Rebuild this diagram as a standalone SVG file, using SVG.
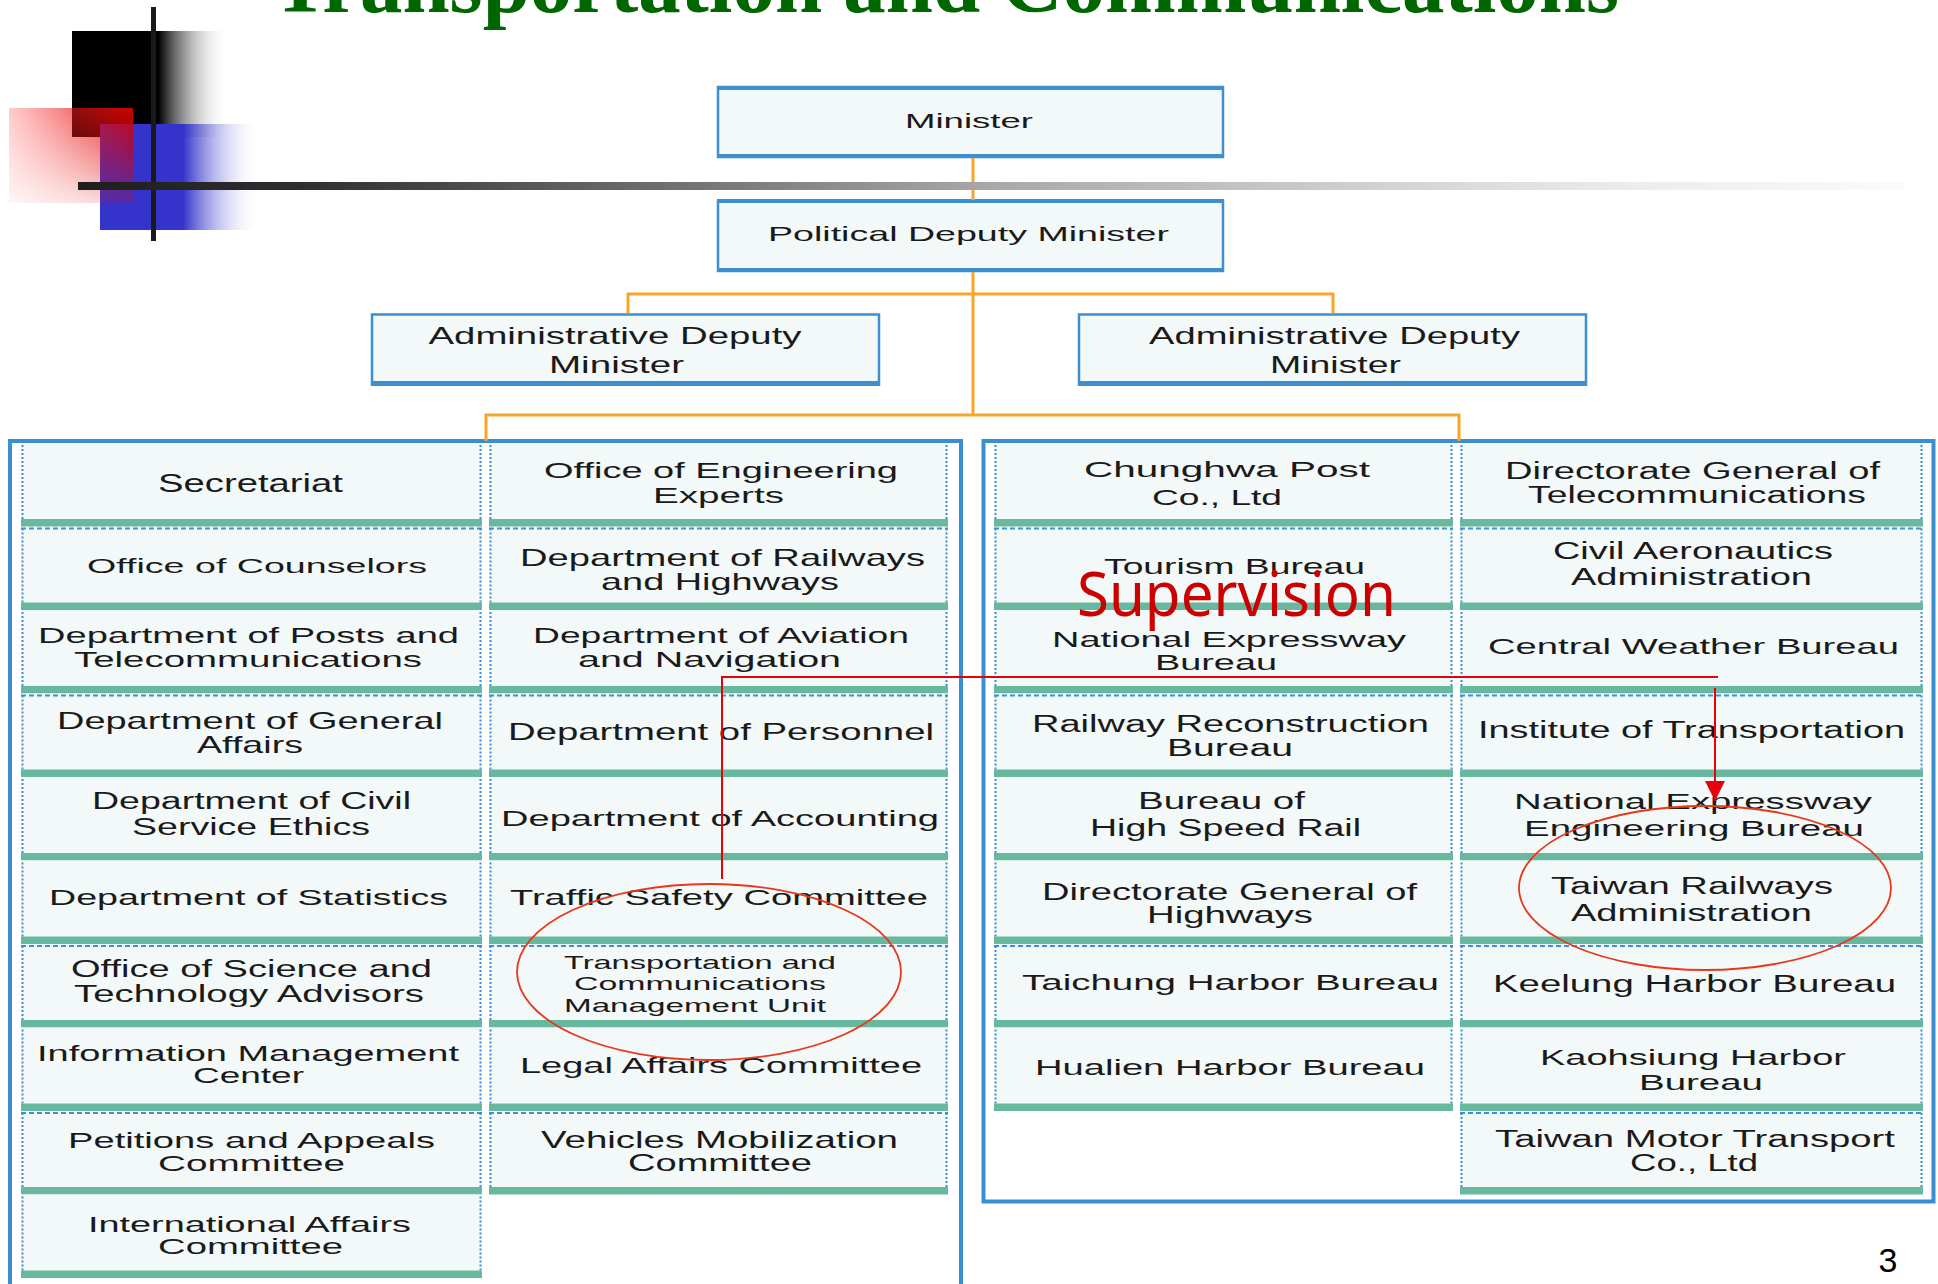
<svg xmlns="http://www.w3.org/2000/svg" width="1938" height="1284" viewBox="0 0 1938 1284">
<defs>
<style>
.cf{fill:#f3f8f8}
.bar{fill:#68b8a0}
.dv{stroke:#3d8fd6;stroke-width:2;stroke-dasharray:2 2;fill:none}
.dh{stroke:#3d8fd6;stroke-width:2;stroke-dasharray:5 3;fill:none}
.t{font-family:"Liberation Sans",Arial,sans-serif;fill:#1a1a1a;text-anchor:middle}
.box{fill:#f3f8f8;stroke:#3d8fd0;stroke-width:2.5}
.bx{fill:#3d8fd0}
.pan{fill:none;stroke:#3a8fd1;stroke-width:4}
.org{fill:none;stroke:#f7a52a;stroke-width:3}
.red{fill:none;stroke:#e8000b;stroke-width:2}
.ell{fill:none;stroke:#e8381c;stroke-width:1.8}
</style>
<linearGradient id="gBlack" x1="0" y1="0" x2="1" y2="0">
<stop offset="0" stop-color="#000"/><stop offset="0.55" stop-color="#000"/><stop offset="1" stop-color="#fff" stop-opacity="0"/>
</linearGradient>
<linearGradient id="gBlue" x1="0" y1="0" x2="1" y2="0">
<stop offset="0" stop-color="#3434cc"/><stop offset="0.52" stop-color="#3434cc"/><stop offset="1" stop-color="#fff" stop-opacity="0"/>
</linearGradient>
<linearGradient id="gRed" x1="0" y1="0" x2="1" y2="0">
<stop offset="0" stop-color="#ff3030" stop-opacity="0.25"/><stop offset="1" stop-color="#d80000" stop-opacity="0.95"/>
</linearGradient>
<linearGradient id="gRedMask" x1="0" y1="0" x2="0" y2="1">
<stop offset="0" stop-color="#fff"/><stop offset="1" stop-color="#fff" stop-opacity="0.2"/>
</linearGradient>
<mask id="mRed" maskUnits="userSpaceOnUse" x="0" y="100" width="150" height="110">
<rect x="9" y="108" width="124" height="95" fill="url(#gRedMask)"/>
</mask>
<linearGradient id="gBar" x1="0" y1="0" x2="1" y2="0">
<stop offset="0" stop-color="#1e1e1e"/><stop offset="0.12" stop-color="#2e2e2e"/><stop offset="0.5" stop-color="#a8a8a8"/><stop offset="0.85" stop-color="#ececec"/><stop offset="1" stop-color="#fbfbfb"/>
</linearGradient>
<marker id="arr" markerUnits="userSpaceOnUse" markerWidth="20" markerHeight="20" refX="20" refY="10" orient="auto">
<path d="M0 0L20 10L0 20z" fill="#e8000b"/>
</marker>
</defs>

<rect width="1938" height="1284" fill="#fff"/>

<!-- title -->
<text x="272" y="12" font-family="Liberation Serif,'Times New Roman',serif" font-weight="bold" font-size="84" fill="#006600" textLength="1347" lengthAdjust="spacingAndGlyphs">Transportation and Communications</text>

<!-- decoration -->
<rect x="72" y="31" width="157" height="106" fill="url(#gBlack)"/>
<rect x="100" y="124" width="160" height="106" fill="url(#gBlue)"/>
<rect x="9" y="108" width="124" height="95" fill="url(#gRed)" mask="url(#mRed)"/>

<!-- panels -->
<path class="pan" d="M10 1284V441H961V1284"/>
<rect class="pan" x="983.5" y="441" width="950" height="760.5"/>

<!-- top nodes -->
<g id="minister">
<rect class="box" x="718" y="87" width="505" height="70"/>
<rect class="bx" x="717" y="86" width="507" height="4"/>
<rect class="bx" x="717" y="154" width="507" height="4"/>
<text class="t" x="969" y="128" font-size="21" textLength="128" lengthAdjust="spacingAndGlyphs">Minister</text>
</g>
<g id="political-deputy">
<rect class="box" x="718" y="201" width="505" height="70"/>
<rect class="bx" x="717" y="199" width="507" height="4"/>
<rect class="bx" x="717" y="268" width="507" height="4"/>
<text class="t" x="968.5" y="241" font-size="21" textLength="401" lengthAdjust="spacingAndGlyphs">Political Deputy Minister</text>
</g>
<g id="admin-deputy-1">
<rect class="box" x="372" y="314.5" width="507" height="70"/>
<rect class="bx" x="371" y="381" width="509" height="5"/>
<text class="t" x="615" y="344" font-size="24" textLength="373" lengthAdjust="spacingAndGlyphs">Administrative Deputy</text>
<text class="t" x="616.5" y="373" font-size="24" textLength="135" lengthAdjust="spacingAndGlyphs">Minister</text>
</g>
<g id="admin-deputy-2">
<rect class="box" x="1079" y="314.5" width="507" height="70"/>
<rect class="bx" x="1078" y="381" width="509" height="5"/>
<text class="t" x="1334.5" y="344" font-size="24" textLength="371" lengthAdjust="spacingAndGlyphs">Administrative Deputy</text>
<text class="t" x="1335.5" y="373" font-size="24" textLength="131" lengthAdjust="spacingAndGlyphs">Minister</text>
</g>

<!-- column 1 -->
<g id="secretariat">
<rect class="cf" x="21" y="443" width="461" height="76"/><path class="dv" d="M22.5 445V519M480.5 445V519"/><rect class="bar" x="21" y="519" width="461" height="8"/>
<text class="t" x="250.5" y="492" font-size="25" textLength="185" lengthAdjust="spacingAndGlyphs">Secretariat</text>
</g>
<g id="counselors">
<rect class="cf" x="21" y="526.5" width="461" height="76"/><path class="dh" d="M21 528.5H482"/><path class="dv" d="M22.5 528.5V602.5M480.5 528.5V602.5"/><rect class="bar" x="21" y="602.5" width="461" height="7.5"/>
<text class="t" x="257" y="573" font-size="21" textLength="340" lengthAdjust="spacingAndGlyphs">Office of Counselors</text>
</g>
<g id="posts-telecom">
<rect class="cf" x="21" y="610" width="461" height="76"/><path class="dv" d="M22.5 612V686M480.5 612V686"/><rect class="bar" x="21" y="686" width="461" height="7.5"/>
<text class="t" x="248.5" y="643" font-size="22" textLength="421" lengthAdjust="spacingAndGlyphs">Department of Posts and</text>
<text class="t" x="248" y="667" font-size="22" textLength="348" lengthAdjust="spacingAndGlyphs">Telecommunications</text>
</g>
<g id="general-affairs">
<rect class="cf" x="21" y="693.5" width="461" height="76"/><path class="dh" d="M21 695.5H482"/><path class="dv" d="M22.5 695.5V769.5M480.5 695.5V769.5"/><rect class="bar" x="21" y="769.5" width="461" height="7.5"/>
<text class="t" x="250" y="729" font-size="24" textLength="386" lengthAdjust="spacingAndGlyphs">Department of General</text>
<text class="t" x="250" y="753" font-size="24" textLength="106" lengthAdjust="spacingAndGlyphs">Affairs</text>
</g>
<g id="civil-service-ethics">
<rect class="cf" x="21" y="777" width="461" height="76"/><path class="dv" d="M22.5 779V853M480.5 779V853"/><rect class="bar" x="21" y="853" width="461" height="7.5"/>
<text class="t" x="251.5" y="809" font-size="23" textLength="319" lengthAdjust="spacingAndGlyphs">Department of Civil</text>
<text class="t" x="251" y="835" font-size="23" textLength="238" lengthAdjust="spacingAndGlyphs">Service Ethics</text>
</g>
<g id="statistics">
<rect class="cf" x="21" y="860.5" width="461" height="76"/><path class="dv" d="M22.5 862.5V936.5M480.5 862.5V936.5"/><rect class="bar" x="21" y="936.5" width="461" height="7.5"/>
<text class="t" x="248.5" y="905" font-size="22" textLength="399" lengthAdjust="spacingAndGlyphs">Department of Statistics</text>
</g>
<g id="science-technology">
<rect class="cf" x="21" y="944" width="461" height="76"/><path class="dh" d="M21 946H482"/><path class="dv" d="M22.5 946V1020M480.5 946V1020"/><rect class="bar" x="21" y="1020" width="461" height="7.5"/>
<text class="t" x="251.5" y="977" font-size="23" textLength="361" lengthAdjust="spacingAndGlyphs">Office of Science and</text>
<text class="t" x="249" y="1002" font-size="23" textLength="350" lengthAdjust="spacingAndGlyphs">Technology Advisors</text>
</g>
<g id="information-management">
<rect class="cf" x="21" y="1027.5" width="461" height="76"/><path class="dv" d="M22.5 1029.5V1103.5M480.5 1029.5V1103.5"/><rect class="bar" x="21" y="1103.5" width="461" height="7.5"/>
<text class="t" x="248" y="1061" font-size="22" textLength="422" lengthAdjust="spacingAndGlyphs">Information Management</text>
<text class="t" x="248.5" y="1083" font-size="22" textLength="111" lengthAdjust="spacingAndGlyphs">Center</text>
</g>
<g id="petitions-appeals">
<rect class="cf" x="21" y="1111" width="461" height="76"/><path class="dh" d="M21 1113H482"/><path class="dv" d="M22.5 1113V1187M480.5 1113V1187"/><rect class="bar" x="21" y="1187" width="461" height="7.5"/>
<text class="t" x="251.5" y="1148" font-size="22" textLength="367" lengthAdjust="spacingAndGlyphs">Petitions and Appeals</text>
<text class="t" x="251.5" y="1171" font-size="22" textLength="187" lengthAdjust="spacingAndGlyphs">Committee</text>
</g>
<g id="international-affairs">
<rect class="cf" x="21" y="1194.5" width="461" height="76"/><path class="dv" d="M22.5 1196.5V1270.5M480.5 1196.5V1270.5"/><rect class="bar" x="21" y="1270.5" width="461" height="7.5"/>
<text class="t" x="249.5" y="1232" font-size="22" textLength="323" lengthAdjust="spacingAndGlyphs">International Affairs</text>
<text class="t" x="250.5" y="1254" font-size="22" textLength="185" lengthAdjust="spacingAndGlyphs">Committee</text>
</g>

<!-- column 2 -->
<g id="engineering-experts">
<rect class="cf" x="489" y="443" width="459" height="76"/><path class="dv" d="M490.5 445V519M946.5 445V519"/><rect class="bar" x="489" y="519" width="459" height="8"/>
<text class="t" x="721" y="478" font-size="22" textLength="354" lengthAdjust="spacingAndGlyphs">Office of Engineering</text>
<text class="t" x="718.5" y="503" font-size="22" textLength="131" lengthAdjust="spacingAndGlyphs">Experts</text>
</g>
<g id="railways-highways">
<rect class="cf" x="489" y="526.5" width="459" height="76"/><path class="dh" d="M489 528.5H948"/><path class="dv" d="M490.5 528.5V602.5M946.5 528.5V602.5"/><rect class="bar" x="489" y="602.5" width="459" height="7.5"/>
<text class="t" x="722.5" y="566" font-size="24" textLength="405" lengthAdjust="spacingAndGlyphs">Department of Railways</text>
<text class="t" x="720" y="590" font-size="24" textLength="238" lengthAdjust="spacingAndGlyphs">and Highways</text>
</g>
<g id="aviation-navigation">
<rect class="cf" x="489" y="610" width="459" height="76"/><path class="dv" d="M490.5 612V686M946.5 612V686"/><rect class="bar" x="489" y="686" width="459" height="7.5"/>
<text class="t" x="721" y="643" font-size="22" textLength="376" lengthAdjust="spacingAndGlyphs">Department of Aviation</text>
<text class="t" x="709.5" y="667" font-size="22" textLength="263" lengthAdjust="spacingAndGlyphs">and  Navigation</text>
</g>
<g id="personnel">
<rect class="cf" x="489" y="693.5" width="459" height="76"/><path class="dh" d="M489 695.5H948"/><path class="dv" d="M490.5 695.5V769.5M946.5 695.5V769.5"/><rect class="bar" x="489" y="769.5" width="459" height="7.5"/>
<text class="t" x="721" y="740" font-size="24" textLength="426" lengthAdjust="spacingAndGlyphs">Department of Personnel</text>
</g>
<g id="accounting">
<rect class="cf" x="489" y="777" width="459" height="76"/><path class="dv" d="M490.5 779V853M946.5 779V853"/><rect class="bar" x="489" y="853" width="459" height="7.5"/>
<text class="t" x="720" y="826" font-size="22" textLength="438" lengthAdjust="spacingAndGlyphs">Department of Accounting</text>
</g>
<g id="traffic-safety">
<rect class="cf" x="489" y="860.5" width="459" height="76"/><path class="dv" d="M490.5 862.5V936.5M946.5 862.5V936.5"/><rect class="bar" x="489" y="936.5" width="459" height="7.5"/>
<text class="t" x="719" y="905" font-size="22" textLength="418" lengthAdjust="spacingAndGlyphs">Traffic Safety Committee</text>
</g>
<g id="tc-management-unit">
<rect class="cf" x="489" y="944" width="459" height="76"/><path class="dh" d="M489 946H948"/><path class="dv" d="M490.5 946V1020M946.5 946V1020"/><rect class="bar" x="489" y="1020" width="459" height="7.5"/>
<text class="t" x="700" y="969" font-size="19" textLength="272" lengthAdjust="spacingAndGlyphs">Transportation and</text>
<text class="t" x="700" y="990" font-size="19" textLength="252" lengthAdjust="spacingAndGlyphs">Communications</text>
<text class="t" x="695" y="1012" font-size="19" textLength="262" lengthAdjust="spacingAndGlyphs">Management Unit</text>
</g>
<g id="legal-affairs">
<rect class="cf" x="489" y="1027.5" width="459" height="76"/><path class="dv" d="M490.5 1029.5V1103.5M946.5 1029.5V1103.5"/><rect class="bar" x="489" y="1103.5" width="459" height="7.5"/>
<text class="t" x="721" y="1073" font-size="22" textLength="402" lengthAdjust="spacingAndGlyphs">Legal Affairs Committee</text>
</g>
<g id="vehicles-mobilization">
<rect class="cf" x="489" y="1111" width="459" height="76"/><path class="dh" d="M489 1113H948"/><path class="dv" d="M490.5 1113V1187M946.5 1113V1187"/><rect class="bar" x="489" y="1187" width="459" height="7.5"/>
<text class="t" x="719.5" y="1148" font-size="24" textLength="357" lengthAdjust="spacingAndGlyphs">Vehicles Mobilization</text>
<text class="t" x="720" y="1171" font-size="24" textLength="184" lengthAdjust="spacingAndGlyphs">Committee</text>
</g>

<!-- column 3 -->
<g id="chunghwa-post">
<rect class="cf" x="994" y="443" width="459" height="76"/><path class="dv" d="M995.5 445V519M1451.5 445V519"/><rect class="bar" x="994" y="519" width="459" height="8"/>
<text class="t" x="1227" y="477" font-size="22" textLength="286" lengthAdjust="spacingAndGlyphs">Chunghwa Post</text>
<text class="t" x="1217" y="505" font-size="22" textLength="130" lengthAdjust="spacingAndGlyphs">Co., Ltd</text>
</g>
<g id="tourism-bureau">
<rect class="cf" x="994" y="526.5" width="459" height="76"/><path class="dh" d="M994 528.5H1453"/><path class="dv" d="M995.5 528.5V602.5M1451.5 528.5V602.5"/><rect class="bar" x="994" y="602.5" width="459" height="7.5"/>
<text class="t" x="1234.5" y="574" font-size="22" textLength="261" lengthAdjust="spacingAndGlyphs">Tourism Bureau</text>
</g>
<g id="national-expressway-bureau">
<rect class="cf" x="994" y="610" width="459" height="76"/><path class="dv" d="M995.5 612V686M1451.5 612V686"/><rect class="bar" x="994" y="686" width="459" height="7.5"/>
<text class="t" x="1229" y="647" font-size="22" textLength="354" lengthAdjust="spacingAndGlyphs">National Expressway</text>
<text class="t" x="1216" y="670" font-size="22" textLength="122" lengthAdjust="spacingAndGlyphs">Bureau</text>
</g>
<g id="railway-reconstruction">
<rect class="cf" x="994" y="693.5" width="459" height="76"/><path class="dh" d="M994 695.5H1453"/><path class="dv" d="M995.5 695.5V769.5M1451.5 695.5V769.5"/><rect class="bar" x="994" y="769.5" width="459" height="7.5"/>
<text class="t" x="1230.5" y="732" font-size="23" textLength="397" lengthAdjust="spacingAndGlyphs">Railway Reconstruction</text>
<text class="t" x="1230" y="756" font-size="23" textLength="126" lengthAdjust="spacingAndGlyphs">Bureau</text>
</g>
<g id="high-speed-rail">
<rect class="cf" x="994" y="777" width="459" height="76"/><path class="dv" d="M995.5 779V853M1451.5 779V853"/><rect class="bar" x="994" y="853" width="459" height="7.5"/>
<text class="t" x="1221.5" y="809" font-size="23" textLength="167" lengthAdjust="spacingAndGlyphs">Bureau of</text>
<text class="t" x="1225.5" y="836" font-size="23" textLength="271" lengthAdjust="spacingAndGlyphs">High Speed Rail</text>
</g>
<g id="highways">
<rect class="cf" x="994" y="860.5" width="459" height="76"/><path class="dv" d="M995.5 862.5V936.5M1451.5 862.5V936.5"/><rect class="bar" x="994" y="936.5" width="459" height="7.5"/>
<text class="t" x="1229.5" y="900" font-size="24" textLength="375" lengthAdjust="spacingAndGlyphs">Directorate General of</text>
<text class="t" x="1230" y="923" font-size="24" textLength="166" lengthAdjust="spacingAndGlyphs">Highways</text>
</g>
<g id="taichung-harbor">
<rect class="cf" x="994" y="944" width="459" height="76"/><path class="dh" d="M994 946H1453"/><path class="dv" d="M995.5 946V1020M1451.5 946V1020"/><rect class="bar" x="994" y="1020" width="459" height="7.5"/>
<text class="t" x="1230.5" y="990" font-size="22" textLength="417" lengthAdjust="spacingAndGlyphs">Taichung Harbor Bureau</text>
</g>
<g id="hualien-harbor">
<rect class="cf" x="994" y="1027.5" width="459" height="76"/><path class="dv" d="M995.5 1029.5V1103.5M1451.5 1029.5V1103.5"/><rect class="bar" x="994" y="1103.5" width="459" height="7.5"/>
<text class="t" x="1230" y="1075" font-size="22" textLength="390" lengthAdjust="spacingAndGlyphs">Hualien Harbor Bureau</text>
</g>

<!-- column 4 -->
<g id="telecommunications-dg">
<rect class="cf" x="1460" y="443" width="463" height="76"/><path class="dv" d="M1461.5 445V519M1921.5 445V519"/><rect class="bar" x="1460" y="519" width="463" height="8"/>
<text class="t" x="1692.5" y="479" font-size="23" textLength="375" lengthAdjust="spacingAndGlyphs">Directorate General of</text>
<text class="t" x="1697" y="503" font-size="23" textLength="338" lengthAdjust="spacingAndGlyphs">Telecommunications</text>
</g>
<g id="civil-aeronautics">
<rect class="cf" x="1460" y="526.5" width="463" height="76"/><path class="dh" d="M1460 528.5H1923"/><path class="dv" d="M1461.5 528.5V602.5M1921.5 528.5V602.5"/><rect class="bar" x="1460" y="602.5" width="463" height="7.5"/>
<text class="t" x="1693" y="559" font-size="23" textLength="280" lengthAdjust="spacingAndGlyphs">Civil Aeronautics</text>
<text class="t" x="1691.5" y="585" font-size="23" textLength="241" lengthAdjust="spacingAndGlyphs">Administration</text>
</g>
<g id="central-weather">
<rect class="cf" x="1460" y="610" width="463" height="76"/><path class="dv" d="M1461.5 612V686M1921.5 612V686"/><rect class="bar" x="1460" y="686" width="463" height="7.5"/>
<text class="t" x="1693.5" y="654" font-size="22" textLength="411" lengthAdjust="spacingAndGlyphs">Central Weather Bureau</text>
</g>
<g id="institute-transportation">
<rect class="cf" x="1460" y="693.5" width="463" height="76"/><path class="dh" d="M1460 695.5H1923"/><path class="dv" d="M1461.5 695.5V769.5M1921.5 695.5V769.5"/><rect class="bar" x="1460" y="769.5" width="463" height="7.5"/>
<text class="t" x="1691.5" y="738" font-size="23" textLength="427" lengthAdjust="spacingAndGlyphs">Institute  of  Transportation</text>
</g>
<g id="expressway-engineering">
<rect class="cf" x="1460" y="777" width="463" height="76"/><path class="dv" d="M1461.5 779V853M1921.5 779V853"/><rect class="bar" x="1460" y="853" width="463" height="7.5"/>
<text class="t" x="1693" y="809" font-size="22" textLength="358" lengthAdjust="spacingAndGlyphs">National Expressway</text>
<text class="t" x="1694" y="836" font-size="22" textLength="340" lengthAdjust="spacingAndGlyphs">Engineering Bureau</text>
</g>
<g id="taiwan-railways">
<rect class="cf" x="1460" y="860.5" width="463" height="76"/><path class="dv" d="M1461.5 862.5V936.5M1921.5 862.5V936.5"/><rect class="bar" x="1460" y="936.5" width="463" height="7.5"/>
<text class="t" x="1692" y="894" font-size="23" textLength="282" lengthAdjust="spacingAndGlyphs">Taiwan Railways</text>
<text class="t" x="1691.5" y="921" font-size="23" textLength="241" lengthAdjust="spacingAndGlyphs">Administration</text>
</g>
<g id="keelung-harbor">
<rect class="cf" x="1460" y="944" width="463" height="76"/><path class="dh" d="M1460 946H1923"/><path class="dv" d="M1461.5 946V1020M1921.5 946V1020"/><rect class="bar" x="1460" y="1020" width="463" height="7.5"/>
<text class="t" x="1694.5" y="992" font-size="23" textLength="403" lengthAdjust="spacingAndGlyphs">Keelung Harbor Bureau</text>
</g>
<g id="kaohsiung-harbor">
<rect class="cf" x="1460" y="1027.5" width="463" height="76"/><path class="dv" d="M1461.5 1029.5V1103.5M1921.5 1029.5V1103.5"/><rect class="bar" x="1460" y="1103.5" width="463" height="7.5"/>
<text class="t" x="1693" y="1065" font-size="22" textLength="306" lengthAdjust="spacingAndGlyphs">Kaohsiung Harbor</text>
<text class="t" x="1701" y="1090" font-size="22" textLength="124" lengthAdjust="spacingAndGlyphs">Bureau</text>
</g>
<g id="taiwan-motor-transport">
<rect class="cf" x="1460" y="1111" width="463" height="76"/><path class="dh" d="M1460 1113H1923"/><path class="dv" d="M1461.5 1113V1187M1921.5 1113V1187"/><rect class="bar" x="1460" y="1187" width="463" height="7.5"/>
<text class="t" x="1695" y="1147" font-size="23" textLength="400" lengthAdjust="spacingAndGlyphs">Taiwan Motor Transport</text>
<text class="t" x="1694" y="1171" font-size="23" textLength="128" lengthAdjust="spacingAndGlyphs">Co., Ltd</text>
</g>

<!-- connectors -->
<g id="connectors">
<path class="org" d="M973 158V200"/>
<path class="org" d="M973 272V415"/>
<path class="org" d="M628 313V294H1333V313"/>
<path class="org" d="M486 441V415H1459V441"/>
<path class="red" d="M722 879V677H1718"/>
<path class="red" d="M1715 688V801" marker-end="url(#arr)"/>
</g>

<!-- annotations -->
<ellipse class="ell" cx="709" cy="972" rx="192" ry="88"/>
<ellipse class="ell" cx="1705" cy="888" rx="186" ry="82"/>
<text x="1077" y="616" font-family="'Noto Sans','Open Sans',sans-serif" font-size="62" fill="#cc0000" textLength="319" lengthAdjust="spacingAndGlyphs">Supervision</text>

<rect x="151" y="7" width="5" height="234" fill="#1a1a1a"/>
<rect x="78" y="182" width="1825" height="8" fill="url(#gBar)"/>

<text x="1888" y="1272" font-family="'Liberation Sans',Arial,sans-serif" font-size="34" fill="#000" text-anchor="middle">3</text>
</svg>
